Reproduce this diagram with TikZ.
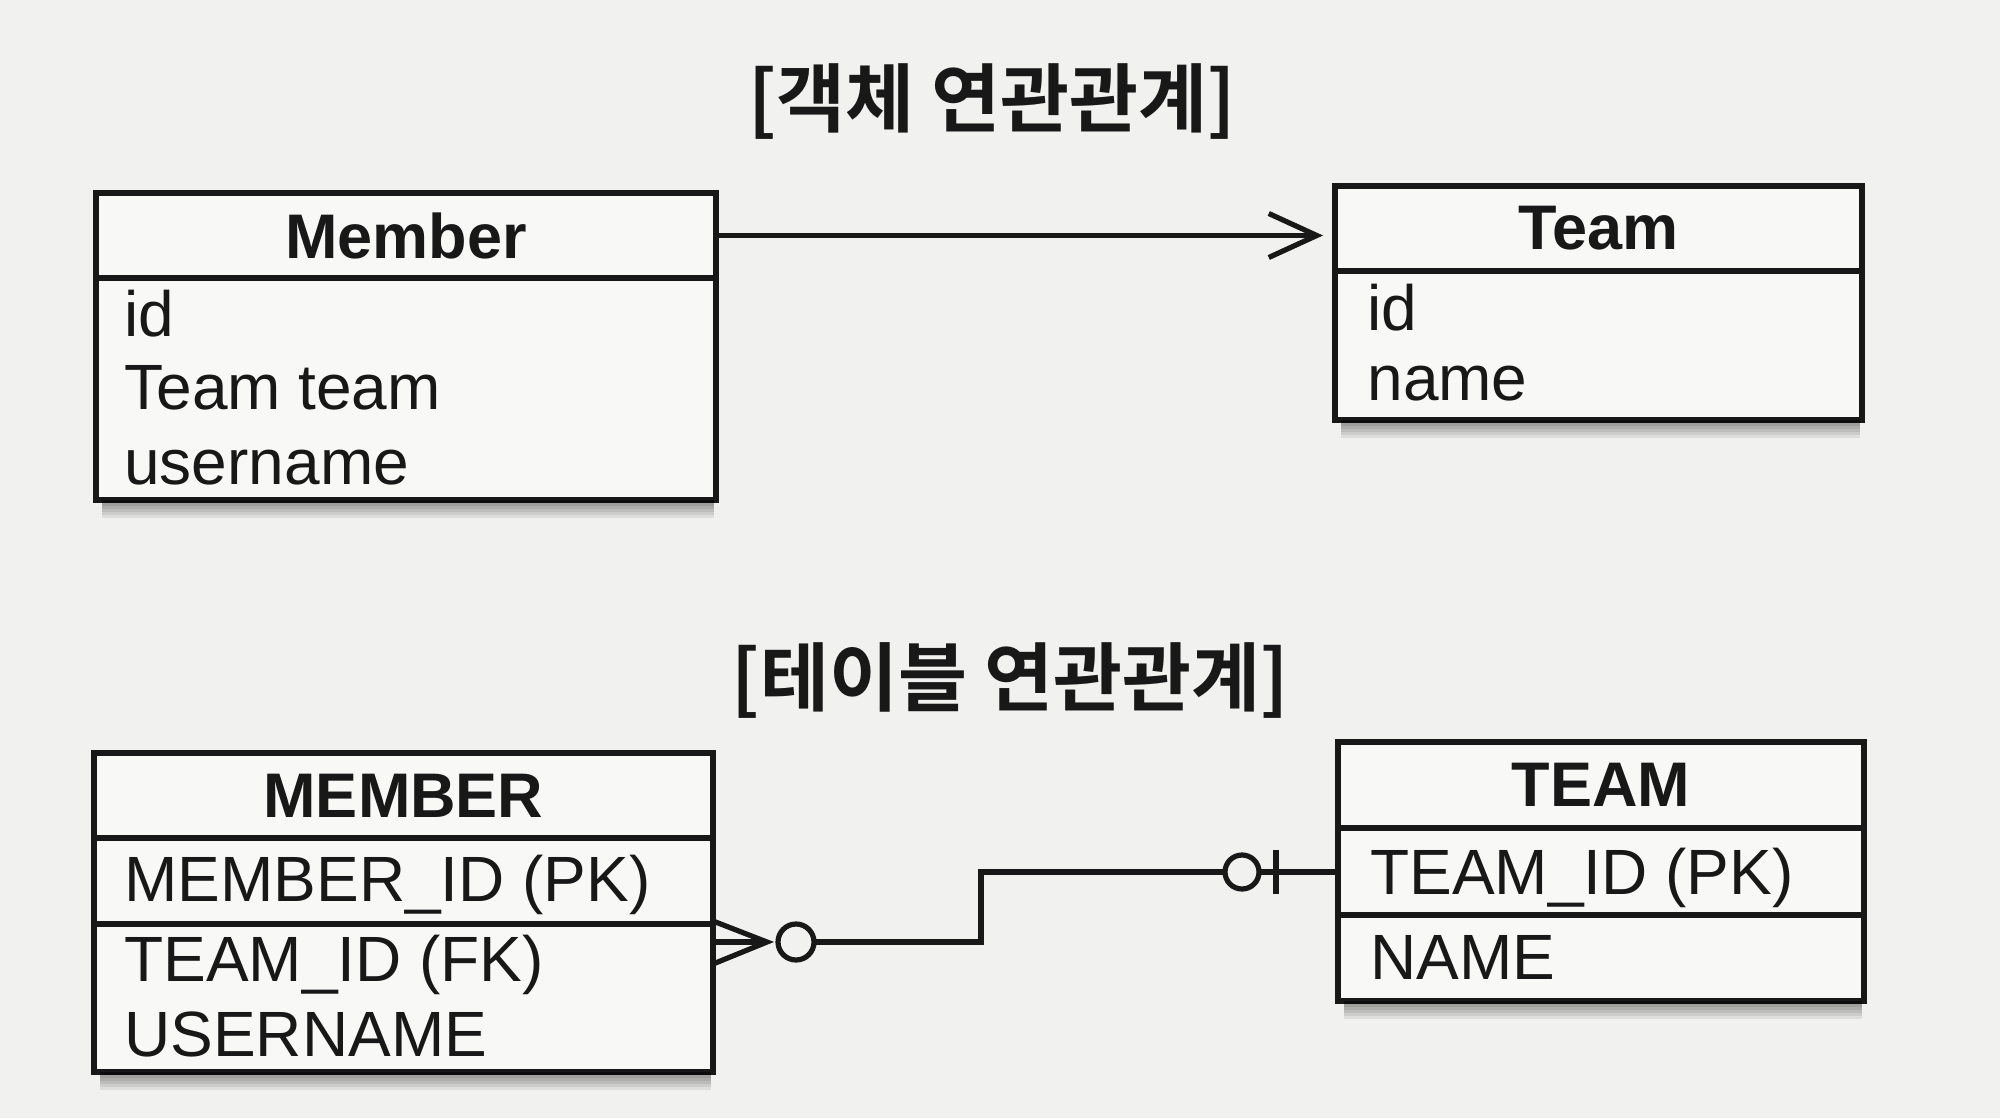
\documentclass[tikz,border=0pt]{standalone}
\usepackage{fontspec}
\setmainfont{Liberation Sans}
\newfontfamily\krfont{Noto Sans CJK KR}[BoldFont={Noto Sans CJK KR Bold}]
\usetikzlibrary{arrows.meta,calc}
\definecolor{bg}{RGB}{241,241,240}
\definecolor{boxfill}{RGB}{248,248,247}
\definecolor{ink}{RGB}{24,24,24}
\begin{document}
\begin{tikzpicture}[x=0.5pt,y=-0.5pt,
  box/.style={draw=ink, line width=2.8pt, fill=boxfill, rectangle, inner sep=0pt, outer sep=0pt},
  hdrtext/.style={font=\fontsize{31.5}{36}\selectfont\bfseries, text=ink},
  attr/.style={font=\fontsize{32}{37}\selectfont, text=ink, anchor=base west, inner sep=0pt},
  title/.style={font=\krfont\fontsize{37.5}{42}\selectfont\bfseries, text=ink, inner sep=0pt},
  conn/.style={draw=ink, line width=2.6pt},
  shadowlayer/.style={fill=black, opacity=0.08}]
\fill[bg] (0,0) rectangle (2000,1118);
\useasboundingbox (0,0) rectangle (2000,1118);

% titles
\node[title] (t1) at (992,102) {[객체 연관관계]};
\node[title] (t2) at (1010,680) {[테이블 연관관계]};

% object model: Member
\node[box, hdrtext, minimum width=310pt, minimum height=42.5pt] (mhead) at (406,235.5) {Member};
\node[box, minimum width=310pt, minimum height=111pt, anchor=north] (mbody) at (mhead.south) {};
\node[attr] (mid) at (124,336) {id};
\node[attr] (mteam) at (124,409) {Team team};
\node[attr] (muser) at (124,484) {username};

% object model: Team
\node[box, hdrtext, minimum width=263.5pt, minimum height=42.5pt] (thead) at (1598.5,228.5) {Team};
\node[box, minimum width=263.5pt, minimum height=74.5pt, anchor=north] (tbody) at (thead.south) {};
\node[attr] (tid) at (1367,330) {id};
\node[attr] (tname) at (1367,400) {name};

% association arrow
\draw[conn, -{Straight Barb[length=24pt,width=22pt]}, shorten >=6pt] (mhead.east) -- (mhead.east -| thead.west);

% table model: MEMBER
\node[box, hdrtext, minimum width=309.5pt, minimum height=42.5pt] (Mhead) at (403.5,795.5) {MEMBER};
\node[box, minimum width=309.5pt, minimum height=43pt, anchor=north] (Mrow1) at (Mhead.south) {};
\node[box, minimum width=309.5pt, minimum height=74pt, anchor=north] (Mrow2) at (Mrow1.south) {};
\node[attr] (Mpk) at (124,901) {MEMBER\_ID (PK)};
\node[attr] (Mfk) at (124,981) {TEAM\_ID (FK)};
\node[attr] (Muser) at (124,1056) {USERNAME};

% table model: TEAM
\node[box, hdrtext, minimum width=263pt, minimum height=43pt] (Thead) at (1601,785) {TEAM};
\node[box, minimum width=263pt, minimum height=43.5pt, anchor=north] (Trow1) at (Thead.south) {};
\node[box, minimum width=263pt, minimum height=43pt, anchor=north] (Trow2) at (Trow1.south) {};
\node[attr] (Tpk) at (1370,894) {TEAM\_ID (PK)};
\node[attr] (Tname) at (1370,979) {NAME};

% shadows under boxes
\foreach \n in {mbody,tbody,Mrow2,Trow2}{
  \foreach \i in {1,...,6}{
    \fill[shadowlayer] ([xshift=3pt]\n.south west) rectangle ([xshift=-1pt,yshift=-\i*1.5pt]\n.south east);
  }
}

% ER relationship
\coordinate (fk) at (713,942);
\coordinate (pk) at (1338,872);
% crow's foot (many) + zero
\draw[conn] ([yshift=10.5pt]fk) -- ([xshift=27pt]fk) -- ([yshift=-11pt]fk);
\draw[conn] (fk) -- ([xshift=27pt]fk);
\draw[conn] ([xshift=41.5pt]fk) circle[radius=9pt];
% connector line
\draw[conn] ([xshift=50.5pt]fk) -- ++(83.5pt,0) |- ([xshift=-56.5pt]pk);
% zero-or-one at TEAM
\draw[conn] ([xshift=-48pt]pk) circle[radius=8.5pt];
\draw[conn] ([xshift=-31pt,yshift=11pt]pk) -- ([xshift=-31pt,yshift=-11pt]pk);
\draw[conn] ([xshift=-39.5pt]pk) -- (pk);
\end{tikzpicture}
\end{document}
